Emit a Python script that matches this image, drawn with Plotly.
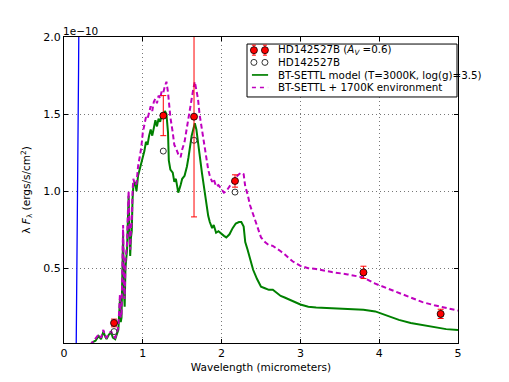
"""SED of HD142527B with BT-SETTL model spectra."""

import plotly.graph_objects as go

# wavelengths in micrometers, fluxes in units of 1e-10 ergs/s/cm^2
phot_wl = [0.635, 1.26, 1.65, 2.17, 3.80, 4.78]
phot_flux = [0.145, 1.49, 1.483, 1.066, 0.473, 0.204]
phot_err = [0.025, 0.13, 0.65, 0.04, 0.04, 0.03]

obs_wl = [0.635, 1.26, 1.65, 2.17, 3.80, 4.78]
obs_flux = [0.089, 1.26, 1.33, 0.994, 0.47, 0.20]

model_wl = [0.33, 0.36, 0.40, 0.44, 0.47, 0.50, 0.52, 0.54, 0.57, 0.60, 0.62, 0.65,
            0.67, 0.69, 0.71, 0.72, 0.73, 0.74, 0.75, 0.76, 0.77, 0.78, 0.80, 0.81,
            0.82, 0.83, 0.84, 0.85, 0.86, 0.87, 0.88, 0.90, 0.92, 0.94, 0.96, 0.98,
            1.00, 1.02, 1.04, 1.06, 1.08, 1.10, 1.12, 1.14, 1.16, 1.18, 1.20, 1.22,
            1.24, 1.26, 1.28, 1.30, 1.32, 1.33, 1.35, 1.38, 1.40, 1.42, 1.45, 1.48,
            1.50, 1.53, 1.56, 1.58, 1.60, 1.62, 1.64, 1.66, 1.68, 1.70, 1.72, 1.75,
            1.78, 1.80, 1.83, 1.85, 1.88, 1.90, 1.93, 1.96, 2.00, 2.03, 2.06, 2.10,
            2.14, 2.18, 2.22, 2.25, 2.28, 2.30, 2.33, 2.36, 2.40, 2.45, 2.50, 2.55,
            2.60, 2.65, 2.70, 2.75, 2.80, 2.90, 3.00, 3.10, 3.20, 3.40, 3.60, 3.80,
            3.95, 4.05, 4.15, 4.25, 4.40, 4.55, 4.70, 4.85, 5.00]

settl_flux = [0.0, 0.02, 0.03, 0.06, 0.04, 0.09, 0.06, 0.04, 0.07, 0.08, 0.05, 0.04,
              0.07, 0.10, 0.30, 0.15, 0.18, 0.55, 0.72, 0.35, 0.25, 0.50, 0.62, 0.80,
              0.97, 0.75, 0.58, 0.70, 0.74, 0.95, 1.03, 1.06, 1.00, 1.10, 1.14, 1.18,
              1.22, 1.26, 1.32, 1.30, 1.36, 1.40, 1.36, 1.42, 1.46, 1.42, 1.47, 1.45,
              1.49, 1.48, 1.52, 1.50, 1.38, 1.20, 1.14, 1.12, 1.06, 1.08, 0.99, 1.04,
              1.08, 1.10, 1.16, 1.22, 1.30, 1.36, 1.40, 1.44, 1.40, 1.33, 1.24, 1.12,
              1.02, 0.93, 0.84, 0.80, 0.76, 0.78, 0.73, 0.74, 0.72, 0.71, 0.70, 0.72,
              0.76, 0.79, 0.80, 0.80, 0.77, 0.67, 0.62, 0.56, 0.49, 0.43, 0.38, 0.37,
              0.36, 0.36, 0.34, 0.32, 0.31, 0.285, 0.265, 0.25, 0.245, 0.24, 0.235, 0.23,
              0.22, 0.20, 0.185, 0.165, 0.145, 0.13, 0.115, 0.105, 0.10]

env_flux = [0.0, 0.02, 0.04, 0.07, 0.05, 0.10, 0.06, 0.05, 0.08, 0.09, 0.06, 0.05,
            0.08, 0.12, 0.33, 0.18, 0.20, 0.60, 0.78, 0.40, 0.30, 0.55, 0.66, 0.85,
            1.00, 0.80, 0.62, 0.76, 0.80, 1.00, 1.08, 1.04, 1.05, 1.16, 1.22, 1.28,
            1.38, 1.44, 1.48, 1.47, 1.52, 1.55, 1.52, 1.58, 1.60, 1.57, 1.62, 1.60,
            1.65, 1.64, 1.68, 1.71, 1.64, 1.58, 1.48, 1.38, 1.30, 1.28, 1.24, 1.22,
            1.27, 1.32, 1.42, 1.48, 1.55, 1.60, 1.66, 1.71, 1.66, 1.60, 1.50, 1.40,
            1.30, 1.22, 1.14, 1.10, 1.06, 1.08, 1.03, 1.04, 1.01, 0.99, 1.00, 1.03,
            1.06, 1.09, 1.11, 1.12, 1.11, 1.03, 0.98, 0.91, 0.85, 0.77, 0.70, 0.67,
            0.65, 0.645, 0.63, 0.61, 0.59, 0.545, 0.515, 0.50, 0.495, 0.475, 0.46, 0.44,
            0.40, 0.38, 0.36, 0.34, 0.31, 0.28, 0.26, 0.24, 0.225]

star_wl = [0.155, 0.165, 0.172, 0.178, 0.185, 0.19]
star_flux = [0.0, 0.5, 1.05, 1.08, 1.8, 2.2]

legend_labels = [
    "HD142527B (<i>A<sub>V</sub></i> =0.6)",
    "HD142527B",
    "BT-SETTL model (T=3000K, log(g)=3.5)",
    "BT-SETTL + 1700K environment",
]

FONT = "DejaVu Sans, Arial, sans-serif"
GREEN = "#008000"
MAGENTA = "#bf00bf"
RED = "#ff0000"

fig = go.Figure()

fig.add_trace(go.Scatter(
    x=model_wl, y=settl_flux, mode="lines",
    line=dict(color=GREEN, width=2), name=legend_labels[2],
))
fig.add_trace(go.Scatter(
    x=model_wl, y=env_flux, mode="lines",
    line=dict(color=MAGENTA, width=2, dash="5px,3px"), name=legend_labels[3],
))
fig.add_trace(go.Scatter(
    x=star_wl, y=star_flux, mode="lines",
    line=dict(color="#0000ff", width=1.3), name="star",
))
fig.add_trace(go.Scatter(
    x=obs_wl, y=obs_flux, mode="markers",
    marker=dict(symbol="circle-open", size=6, color="#333333", line=dict(width=1)),
    name=legend_labels[1],
))
fig.add_trace(go.Scatter(
    x=phot_wl, y=phot_flux, mode="markers",
    marker=dict(size=7, color=RED, line=dict(width=0.8, color="black")),
    error_y=dict(type="data", array=phot_err, color=RED, thickness=1, width=3),
    name=legend_labels[0],
))

# hand-drawn legend box (matplotlib-style compact rows)
row_y = [0.957, 0.917, 0.876, 0.835]
sym_x = [0.482, 0.510]
shapes = [dict(type="rect", xref="paper", yref="paper", x0=0.4645, x1=0.9975,
               y0=0.804, y1=0.977, line=dict(color="black", width=1),
               fillcolor="white", layer="above")]
annotations = []
for i, (label, ry) in enumerate(zip(legend_labels, row_y)):
    annotations.append(dict(
        text=label, xref="paper", yref="paper", x=0.538, y=ry,
        xanchor="left", yanchor="middle", showarrow=False,
        font=dict(size=10.3, color="black"),
    ))
    if i == 0:
        for sx in sym_x:
            shapes.append(dict(type="line", xref="paper", yref="paper",
                               xsizemode="pixel", ysizemode="pixel",
                               xanchor=sx, yanchor=ry, x0=0, x1=0, y0=-5, y1=5,
                               line=dict(color=RED, width=1), layer="above"))
            for cy in (-5, 5):
                shapes.append(dict(type="line", xref="paper", yref="paper",
                                   xsizemode="pixel", ysizemode="pixel",
                                   xanchor=sx, yanchor=ry, x0=-2, x1=2, y0=cy, y1=cy,
                                   line=dict(color=RED, width=1), layer="above"))
            shapes.append(dict(type="circle", xref="paper", yref="paper",
                               xsizemode="pixel", ysizemode="pixel",
                               xanchor=sx, yanchor=ry, x0=-3.5, x1=3.5, y0=-3.5, y1=3.5,
                               fillcolor=RED, line=dict(color="black", width=0.8),
                               layer="above"))
    elif i == 1:
        for sx in sym_x:
            shapes.append(dict(type="circle", xref="paper", yref="paper",
                               xsizemode="pixel", ysizemode="pixel",
                               xanchor=sx, yanchor=ry, x0=-3, x1=3, y0=-3, y1=3,
                               fillcolor="white", line=dict(color="#333333", width=1),
                               layer="above"))
    else:
        color = GREEN if i == 2 else MAGENTA
        dash = "solid" if i == 2 else "4px,4px"
        shapes.append(dict(type="line", xref="paper", yref="paper",
                           x0=0.477, x1=0.518, y0=ry, y1=ry,
                           line=dict(color=color, width=1.7, dash=dash), layer="above"))

annotations.append(dict(
    text="1e\u221210", xref="paper", yref="paper", x=0, y=1,
    xanchor="left", yanchor="bottom", showarrow=False,
    font=dict(size=10.5, color="black"), yshift=-2, xshift=-3,
))

axis_common = dict(
    showline=True, linecolor="black", linewidth=1, mirror="ticks",
    ticks="inside", ticklen=4, tickcolor="black",
    showgrid=True, gridcolor="#777777", griddash="1px,3px", gridwidth=1,
    zeroline=False, tickfont=dict(size=11, color="black"), automargin=False,
)

fig.update_layout(
    width=509, height=382,
    margin=dict(l=56, r=59, t=29, b=47),
    plot_bgcolor="white", paper_bgcolor="white",
    font=dict(family=FONT, color="black"),
    showlegend=False,
    xaxis=dict(
        range=[0, 5], tickvals=[0, 1, 2, 3, 4, 5],
        title=dict(text="Wavelength (micrometers)", font=dict(size=10.5), standoff=4),
        **axis_common,
    ),
    yaxis=dict(
        range=[0.015, 2.0], tickvals=[0.5, 1.0, 1.5, 2.0],
        ticktext=["0.5", "1.0", "1.5", "2.0"],
        title=dict(text="λ <i>F</i><sub>λ</sub> (ergs/s/cm<sup>2</sup>)",
                   font=dict(size=10.5), standoff=10),
        **axis_common,
    ),
    shapes=shapes,
    annotations=annotations,
)

fig.write_html("out.html")
